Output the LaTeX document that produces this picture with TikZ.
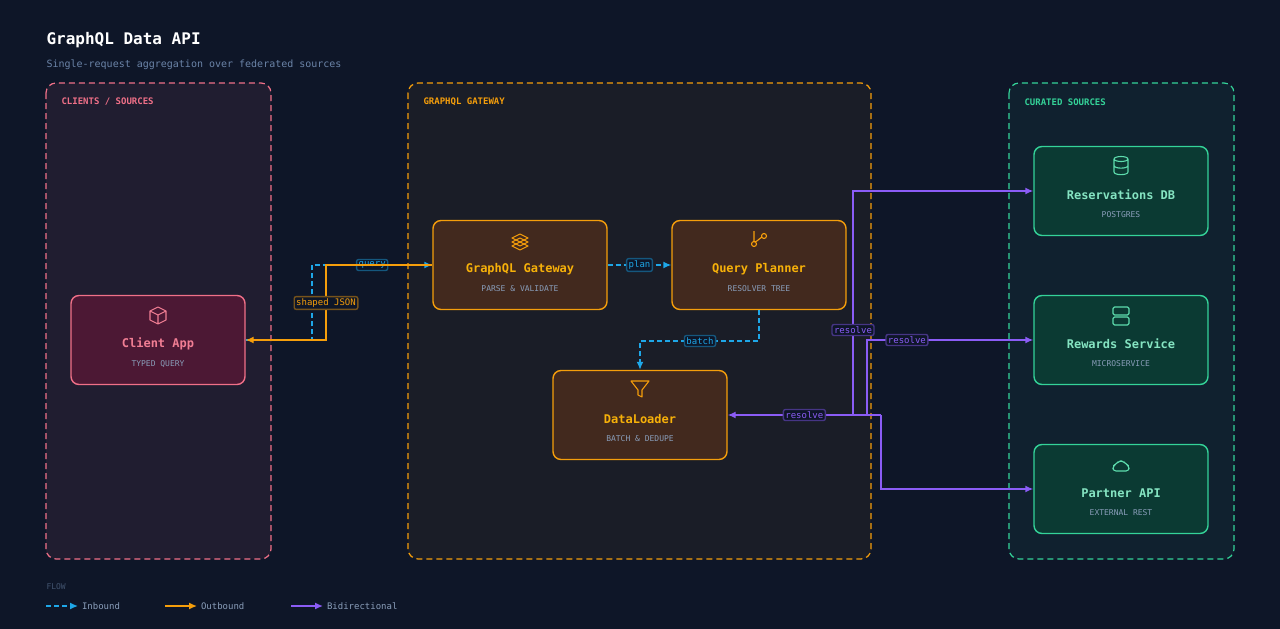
\documentclass[tikz,border=0pt]{standalone}
\usepackage{fontspec}
\setmainfont{DejaVu Sans Mono}
\usetikzlibrary{arrows.meta}
\definecolor{bg}{HTML}{0E1628}
\definecolor{pinkc}{HTML}{F07088}
\definecolor{orangec}{HTML}{F59E0B}
\definecolor{greenc}{HTML}{34D399}
\definecolor{bluec}{HTML}{1EA7E8}
\definecolor{purplec}{HTML}{8B5CF6}
\definecolor{subc}{HTML}{6B84A8}
\definecolor{pinkfill}{HTML}{4C1834}
\definecolor{orangefill}{HTML}{42291E}
\definecolor{greenfill}{HTML}{0B3A33}
\tikzset{
  group/.style={draw=#1,dashed,dash pattern=on 6pt off 4pt,line width=1.2pt,rounded corners=10pt},
  card/.style={draw=#1,line width=1.4pt,rounded corners=8pt,minimum width=174pt,minimum height=89pt},
  ttl/.style={font=\bfseries\fontsize{12}{14}\selectfont},
  sub/.style={font=\fontsize{8}{10}\selectfont,text=subc!80!white},
  tag/.style={draw=#1!45!bg,fill=bg,solid,rounded corners=2pt,inner sep=2pt,font=\fontsize{9}{10}\selectfont,text=#1},
  inb/.style={bluec,dashed,dash pattern=on 5pt off 3pt,line width=1.4pt,-{Latex[length=8pt,width=7pt]}},
  outb/.style={orangec,line width=1.4pt,-{Latex[length=8pt,width=7pt]}},
  bid/.style={purplec,line width=1.4pt,-{Latex[length=8pt,width=7pt]}},
}
\begin{document}
\begin{tikzpicture}[x=1pt,y=-1pt]
\fill[bg] (0,0) rectangle (1280,629);
\node[anchor=west,text=white,font=\bfseries\fontsize{16}{18}\selectfont] (title) at (43,40) {GraphQL Data API};
\node[anchor=west,text=subc,font=\fontsize{10}{12}\selectfont] (subtitle) at (43,65) {Single-request aggregation over federated sources};
% groups
\draw[group=pinkc,fill=pinkc!8!bg] (46,83) rectangle (271,559);
\draw[group=orangec,fill=orangec!5!bg] (408,83) rectangle (871,559);
\draw[group=greenc,fill=greenc!6!bg] (1009,83) rectangle (1234,559);
\node[anchor=west,text=pinkc,font=\bfseries\fontsize{9}{11}\selectfont] (gclients) at (58,102) {CLIENTS / SOURCES};
\node[anchor=west,text=orangec,font=\bfseries\fontsize{9}{11}\selectfont] (ggate) at (420,102) {GRAPHQL GATEWAY};
\node[anchor=west,text=greenc,font=\bfseries\fontsize{9}{11}\selectfont] (gcur) at (1021,102) {CURATED SOURCES};
% cards
\node[card=pinkc,fill=pinkfill] (client) at (158,340) {};
\node[card=orangec,fill=orangefill] (gateway) at (520,265) {};
\node[card=orangec,fill=orangefill] (planner) at (759,265) {};
\node[card=orangec,fill=orangefill] (loader) at (640,415) {};
\node[card=greenc,fill=greenfill] (resdb) at (1121,191) {};
\node[card=greenc,fill=greenfill] (rewards) at (1121,340) {};
\node[card=greenc,fill=greenfill] (partner) at (1121,489) {};
% card texts
\foreach \n/\t/\s/\c in {client/Client App/TYPED QUERY/pinkc!90!white,
  gateway/GraphQL Gateway/PARSE \& VALIDATE/orangec!80!yellow,
  planner/Query Planner/RESOLVER TREE/orangec!80!yellow,
  loader/DataLoader/BATCH \& DEDUPE/orangec!80!yellow,
  resdb/Reservations DB/POSTGRES/greenc!60!white,
  rewards/Rewards Service/MICROSERVICE/greenc!60!white,
  partner/Partner API/EXTERNAL REST/greenc!60!white}{
  \node[ttl,text=\c] at ([shift={(0,4)}]\n.center) {\t};
  \node[sub] at ([shift={(0,24)}]\n.center) {\s};
}
% icons
\begin{scope}[line width=1.1pt,line join=round]
\draw[pinkc!90!white] ([shift={(-8,-29)}]client.center) -- ++(8,-4) -- ++(8,4) -- ++(0,9) -- ++(-8,4) -- ++(-8,-4) -- cycle
  ([shift={(-8,-29)}]client.center) -- ++(8,4) -- ++(8,-4) ([shift={(0,-25)}]client.center) -- ++(0,9);
\foreach \d in {0,4,8}
  \draw[orangec] ([shift={(-8,-27+\d)}]gateway.center) -- ++(8,-4) -- ++(8,4) -- ++(-8,4) -- cycle;
\draw[orangec] ([shift={(-5,-34)}]planner.center) -- ++(0,10) ([shift={(-5,-21)}]planner.center) circle (2.5pt)
  ([shift={(5,-29)}]planner.center) circle (2.5pt) ([shift={(-5,-24)}]planner.center) to[out=-90,in=-150] ([shift={(3,-28)}]planner.center);
\draw[orangec] ([shift={(-9,-34)}]loader.center) -- ++(18,0) -- ++(-7,9) -- ++(0,7) -- ++(-4,-2) -- ++(0,-5) -- cycle;
\draw[greenc!80!white] ([shift={(0,-32)}]resdb.center) ellipse (7pt and 2.5pt)
  ([shift={(-7,-32)}]resdb.center) -- ++(0,13) ([shift={(7,-32)}]resdb.center) -- ++(0,13)
  ([shift={(-7,-19)}]resdb.center) .. controls ([shift={(-7,-15.5)}]resdb.center) and ([shift={(7,-15.5)}]resdb.center) .. ([shift={(7,-19)}]resdb.center)
  ([shift={(-7,-25.5)}]resdb.center) .. controls ([shift={(-7,-22)}]resdb.center) and ([shift={(7,-22)}]resdb.center) .. ([shift={(7,-25.5)}]resdb.center);
\draw[greenc!80!white,rounded corners=1.5pt] ([shift={(-8,-33)}]rewards.center) rectangle ++(16,8)
  ([shift={(-8,-23)}]rewards.center) rectangle ++(16,8);
\draw[greenc!80!white,rounded corners=3pt] ([shift={(-8,-18)}]partner.center) -- ++(16,0) -- ++(0,-5) -- ++(-3,-2)
  -- ++(-3,-3) -- ++(-4,0) -- ++(-3,3) -- ++(-3,2) -- cycle;
\end{scope}
% connectors
\coordinate (qa) at (312,340);
\draw[inb] (client.east) -- (qa) |- (gateway.west) node[pos=0.75,tag=bluec] {query};
\draw[outb] (gateway.west) -| (326,303) node[tag=orangec] {shaped JSON} |- (client.east);
\draw[inb] (gateway.east) -- (planner.west) node[midway,tag=bluec] {plan};
\draw[inb] (planner.south) |- (700,341) node[tag=bluec] {batch} -| (loader.north);
\coordinate (hub) at (881,415);
\draw[bid] (hub) -- (loader.east) node[pos=0.5,tag=purplec] {resolve};
\draw[bid] (853,415) |- (853,330) node[tag=purplec] {resolve} |- (resdb.west);
\draw[bid] (867,415) |- (rewards.west) node[pos=0.62,tag=purplec] {resolve};
\draw[bid] (hub) |- (partner.west);
% legend
\node[anchor=west,text=subc!55!bg,font=\fontsize{8}{10}\selectfont] (flow) at (43,587) {FLOW};
\draw[inb] (46,606) -- (78,606) node[right,text=subc!80!white,font=\fontsize{9}{10}\selectfont] (linb) {Inbound};
\draw[outb] (165,606) -- (197,606) node[right,text=subc!80!white,font=\fontsize{9}{10}\selectfont] (lout) {Outbound};
\draw[bid] (291,606) -- (323,606) node[right,text=subc!80!white,font=\fontsize{9}{10}\selectfont] (lbid) {Bidirectional};
\end{tikzpicture}
\end{document}
